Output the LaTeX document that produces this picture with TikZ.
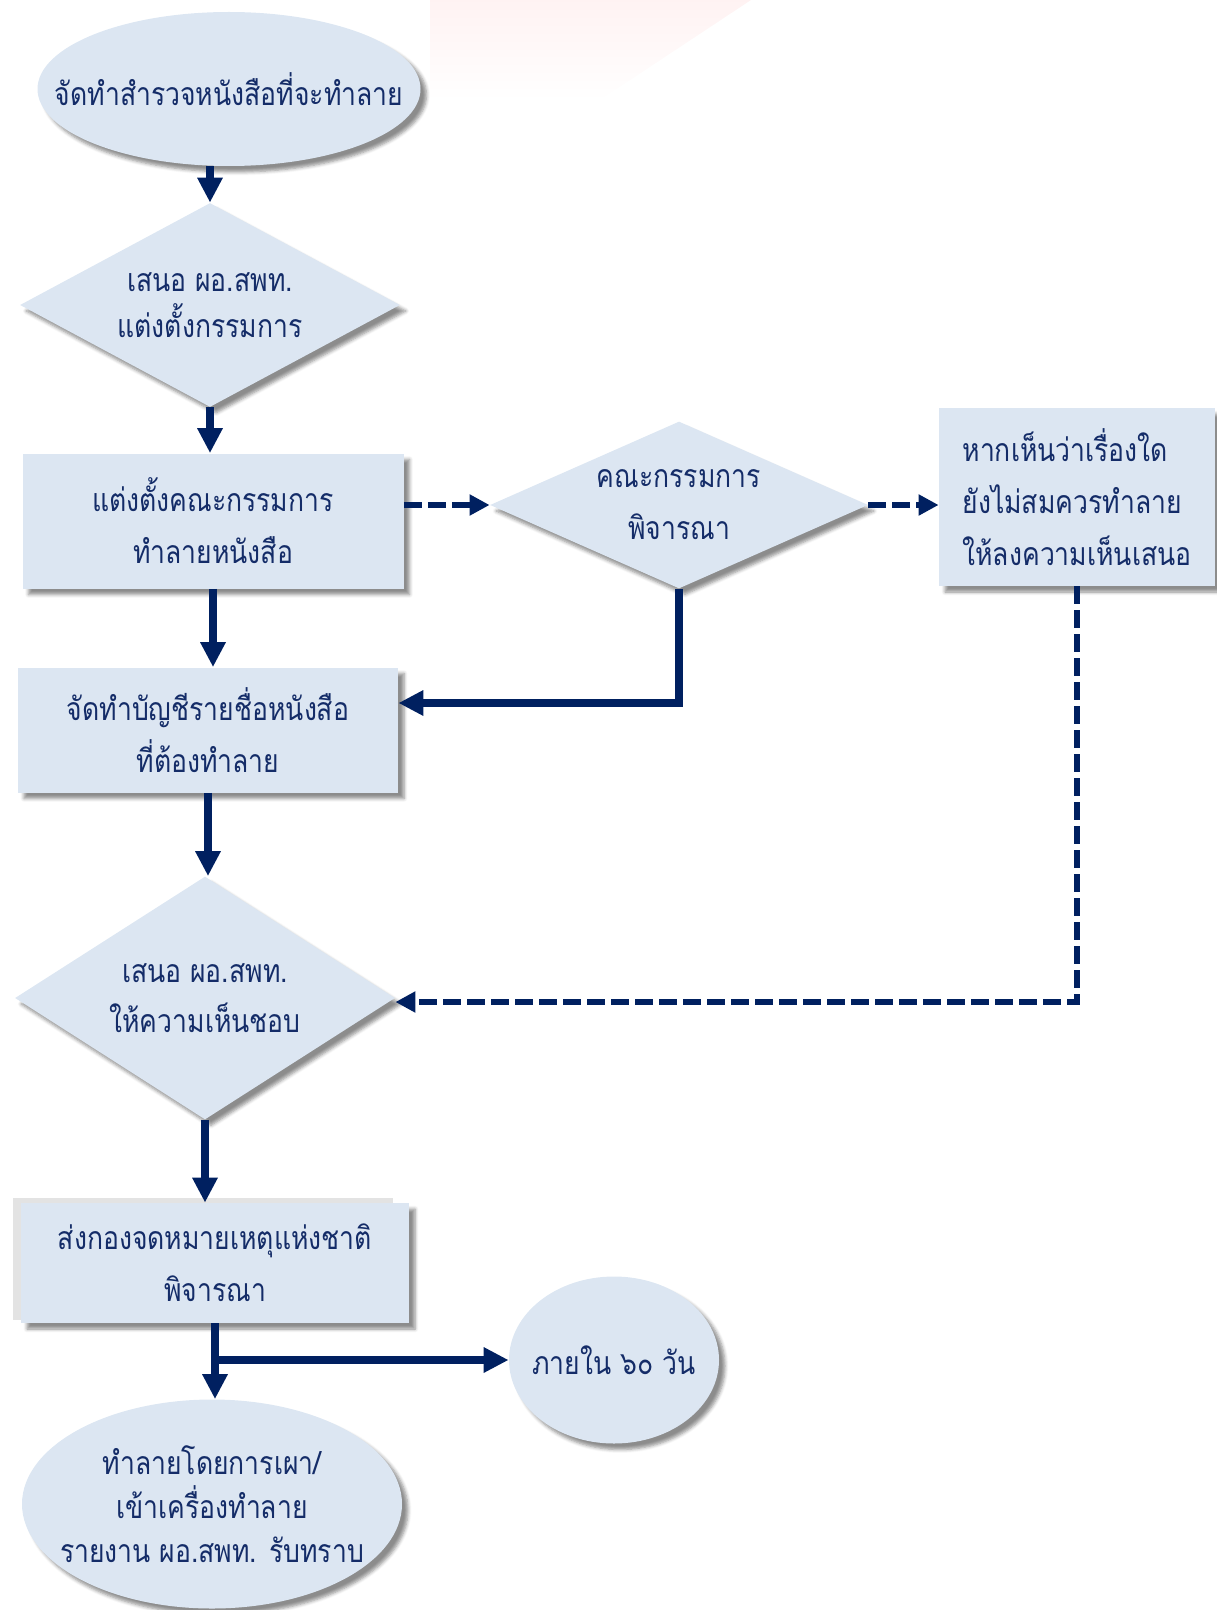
\documentclass[tikz,border=0pt]{standalone}
\usepackage{fontspec}
\newfontfamily\thaifont[Script=Thai,FakeStretch=0.83]{Loma}
\usetikzlibrary{shapes.geometric,arrows.meta,shadows.blur,backgrounds}
\definecolor{navy}{RGB}{0,32,96}
\definecolor{boxblue}{RGB}{220,230,242}
\definecolor{txtblue}{RGB}{20,44,104}

\begin{document}
\begin{tikzpicture}[x=0.5pt,y=-0.5pt,
    box/.style={fill=boxblue,text=txtblue,align=center,inner sep=0pt,
      font=\thaifont\fontsize{16}{26}\selectfont,
      blur shadow={shadow xshift=3pt,shadow yshift=-3pt,shadow blur steps=5,shadow opacity=45}},
    proc/.style={box,rectangle},
    oval/.style={box,ellipse,inner xsep=-25pt},
    choice/.style={box,diamond},
    arr/.style={draw=navy,line width=4pt,-{Triangle[length=12.5pt,width=12pt]}},
    dasharr/.style={draw=navy,line width=3pt,dash pattern=on 9pt off 3pt,-{Triangle[length=10pt,width=10pt]}}]
      \useasboundingbox (0,0) rectangle (1216,1610);
      \shade[top color=red!5,bottom color=white] (430,0) -- (751,0) -- (600,100) -- (430,100) -- cycle;

      \node[oval,minimum width=191.5pt,minimum height=77pt] (1) at (229,89) {จัดทำสำรวจหนังสือที่จะทำลาย};
      \node[choice,aspect=1.86,minimum width=190pt,minimum height=102pt] (2) at (210,305) {เสนอ ผอ.สพท.\\[-3pt]แต่งตั้งกรรมการ};
      \node[proc,minimum width=190.5pt,minimum height=67.5pt] (3) at (213,521) {แต่งตั้งคณะกรรมการ\\ทำลายหนังสือ};
      \node[choice,aspect=2.26,minimum width=189pt,minimum height=83.5pt] (4) at (679,505) {คณะกรรมการ\\พิจารณา};
      \node[proc,align=left,minimum width=138pt,minimum height=89pt] (5) at (1077,497) {หากเห็นว่าเรื่องใด\\ยังไม่สมควรทำลาย\\ให้ลงความเห็นเสนอ};
      \node[proc,minimum width=190pt,minimum height=62.5pt] (6) at (208,730) {จัดทำบัญชีรายชื่อหนังสือ\\ที่ต้องทำลาย};
      \node[choice,aspect=1.56,minimum width=190pt,minimum height=121.5pt] (7) at (205,998) {เสนอ ผอ.สพท.\\[-1pt]ให้ความเห็นชอบ};
      \node[proc,minimum width=194pt,minimum height=60pt] (8) at (215,1263) {ส่งกองจดหมายเหตุแห่งชาติ\\พิจารณา};
      \node[oval,minimum width=105pt,minimum height=83.5pt] (9) at (614,1360) {ภายใน ๖๐ วัน};
      \node[oval,minimum width=190pt,minimum height=104.5pt] (10) at (212,1504) {ทำลายโดยการเผา/\\[-4pt]เข้าเครื่องทำลาย\\[-4pt]รายงาน ผอ.สพท. รับทราบ};
      \begin{scope}[on background layer]
        \fill[black!11] ([xshift=-4pt,yshift=2.5pt]8.north west) rectangle ([xshift=-8pt,yshift=1.5pt]8.south east);
      \end{scope}

      \draw[arr] (1.south -| 2.north) -- (2.north);
      \draw[arr] (2.south) -- (2.south |- 3.north);
      \draw[dasharr] (3.east |- 4.west) -- (4.west);
      \draw[dasharr] (4.east) -- (4.east -| 5.west);
      \draw[arr] (4.south) |- ([yshift=13.5pt]6.east);
      \draw[arr] (3.south) -- (3.south |- 6.north);
      \draw[arr] (6.south) -- (6.south |- 7.north);
      \draw[dasharr] (5.south) |- ([yshift=-2pt]7.east);
      \draw[arr] (7.south) -- (7.south |- 8.north);
      \draw[arr] (8.south) -- (8.south |- 10.north);
      \draw[arr] (8.south |- 9.west) -- (9.west);
    \end{tikzpicture}
\end{document}
